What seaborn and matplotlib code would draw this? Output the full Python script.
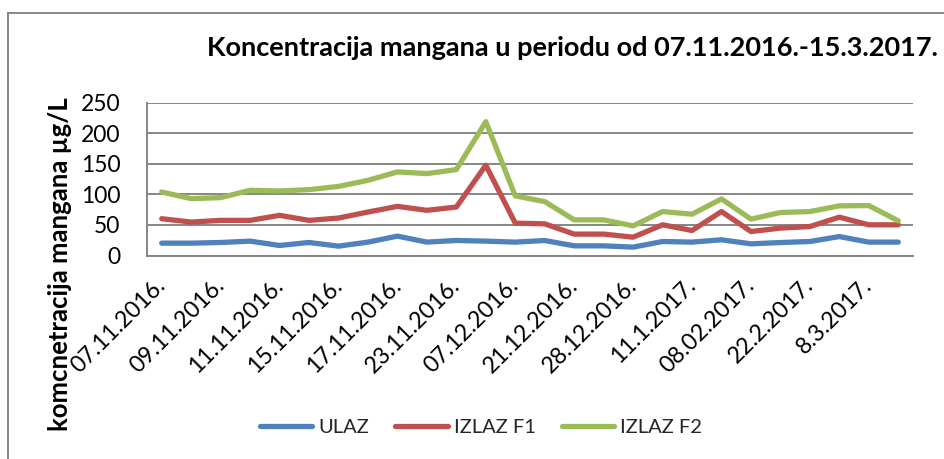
import matplotlib
matplotlib.use("Agg")
import matplotlib.pyplot as plt
import seaborn as sns
import pandas as pd
import numpy as np
from matplotlib.patches import Rectangle
from matplotlib.lines import Line2D

# ---- data ----
tick_labels = ["07.11.2016.", "09.11.2016.", "11.11.2016.", "15.11.2016.", "17.11.2016.",
               "23.11.2016.", "07.12.2016.", "21.12.2016.", "28.12.2016.", "11.1.2017.",
               "08.02.2017.", "22.2.2017.", "8.3.2017."]
series_names = ["ULAZ", "IZLAZ F1", "IZLAZ F2"]
ulaz = [20.2, 20.2, 21.3, 23.5, 16.4, 21.3, 15.3, 21.9, 31.7, 21.9, 24.6, 23.5, 21.9,
        24.5, 15.8, 15.8, 13.7, 22.9, 21.9, 25.7, 19.1, 21.2, 22.9, 31.0, 21.9, 21.9]
izlaz_f1 = [60.2, 54.7, 57.5, 57.5, 65.7, 57.5, 61.3, 71.1, 80.4, 73.9, 79.3, 147.7, 52.9,
            51.8, 35.0, 35.0, 30.0, 50.2, 40.9, 71.9, 39.2, 44.8, 47.4, 62.7, 50.2, 50.2]
izlaz_f2 = [103.9, 93.0, 94.7, 106.7, 105.6, 107.8, 113.0, 123.0, 136.8, 134.0, 140.6, 218.9, 97.5,
            88.2, 58.3, 58.3, 48.5, 71.9, 67.6, 92.6, 59.5, 70.3, 71.9, 81.2, 81.7, 56.7]
title = "Koncentracija mangana u periodu od 07.11.2016.-15.3.2017."
ylabel = "komcnetracija mangana µg/L"
yticks = [0, 50, 100, 150, 200, 250]

colors = ["#4F81BD", "#C0504D", "#9BBB59"]

n = len(ulaz)
df = pd.DataFrame({
    "idx": list(range(n)) * 3,
    "value": ulaz + izlaz_f1 + izlaz_f2,
    "series": [series_names[0]] * n + [series_names[1]] * n + [series_names[2]] * n,
})

sns.set_theme(style="white")
plt.rcParams["font.family"] = ["Lato", "DejaVu Sans"]

W, H = 944, 459
fig = plt.figure(figsize=(W / 100, H / 100), dpi=100)
ax = fig.add_axes([147 / W, 1 - 255.5 / H, (913 - 147) / W, (255.5 - 102.7) / H])

sns.lineplot(data=df, x="idx", y="value", hue="series", palette=colors,
             hue_order=series_names, sort=False, linewidth=3.8, ax=ax, legend=False)

ax.set_xlim(-0.5, n - 0.5)
ax.set_ylim(0, 250)
ax.set_yticks(yticks)
ax.set_yticklabels([str(v) for v in yticks], fontsize=16.5, color="black")
ax.yaxis.grid(True, color="#868686", linewidth=1.4)
ax.set_axisbelow(True)
ax.tick_params(axis="y", length=0, pad=19)
ax.tick_params(axis="x", length=0, pad=19)
ax.set_xticks(list(range(0, n - 1, 2)))
ax.set_xticklabels(tick_labels, rotation=45, ha="right", va="center",
                   rotation_mode="anchor", fontsize=16.7, color="black")
ax.set_xlabel("")
ax.set_ylabel("")
for s in ["top", "right"]:
    ax.spines[s].set_visible(False)
for s in ["left", "bottom"]:
    ax.spines[s].set_color("#868686")
    ax.spines[s].set_linewidth(1.4)

fig.text(572 / W, 1 - 48 / H, title, ha="center", va="center",
         fontsize=19.5, fontweight="bold", color="black")
fig.text(60 / W, 1 - 264 / H, ylabel, ha="center", va="center", rotation=90,
         fontsize=18.5, fontweight="bold", color="black")

handles = [Line2D([0], [0], color=c, linewidth=3.8) for c in colors]
fig.legend(handles, series_names, loc="center", bbox_to_anchor=(481 / W, 1 - 427 / H),
           ncol=3, frameon=False, fontsize=14.5, handlelength=2.6, handletextpad=0.3,
           columnspacing=1.3)

fig.patches.append(Rectangle((8 / W, -0.2), 1.2, 1 - 13 / H + 0.2, transform=fig.transFigure,
                             fill=False, edgecolor="#868686", linewidth=1.4))

fig.savefig("out.png", dpi=100)
